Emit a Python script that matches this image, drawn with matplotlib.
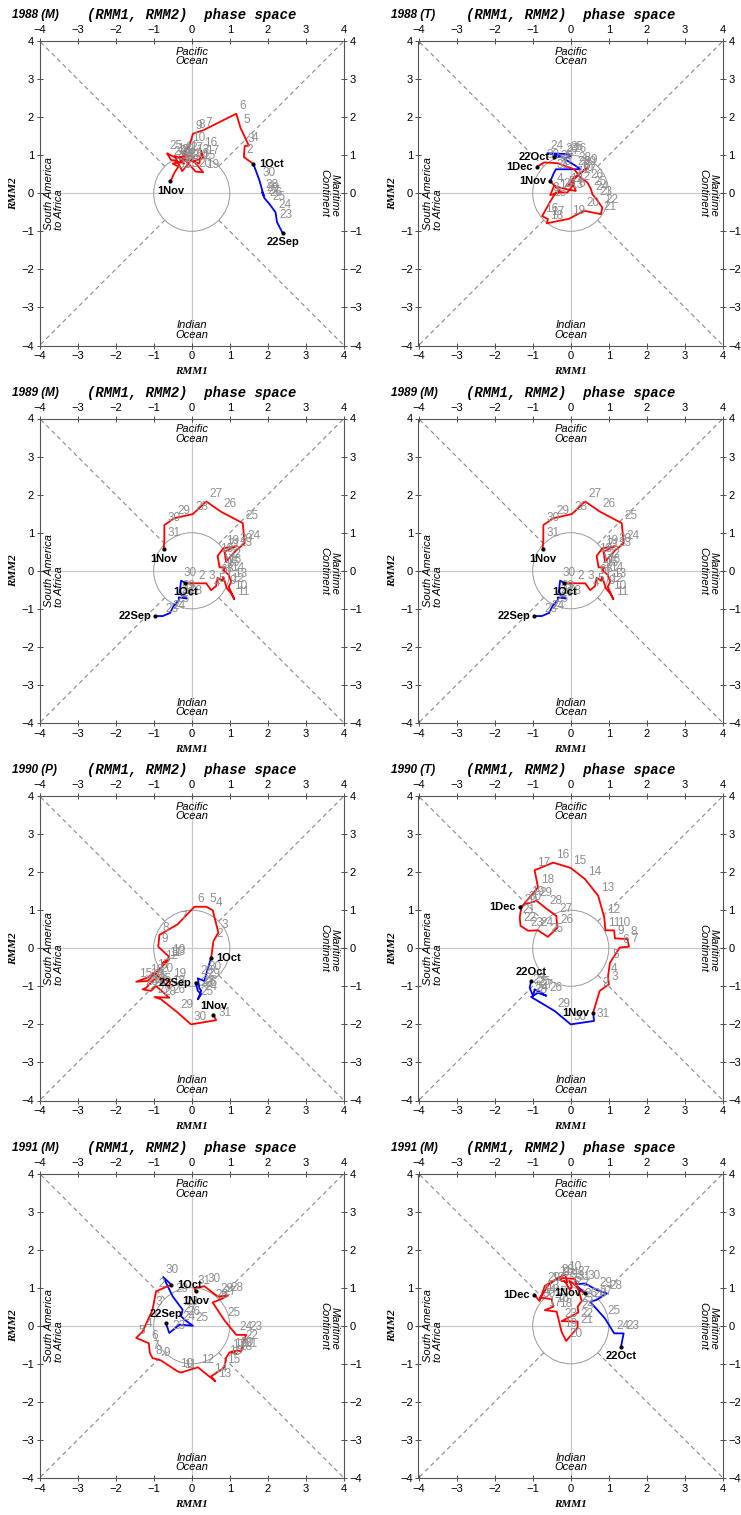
import numpy as np
import matplotlib
matplotlib.use("Agg")
import matplotlib.pyplot as plt
from matplotlib.patches import Circle

plt.rcParams['font.family'] = ['Liberation Sans', 'DejaVu Sans']

# panel titles
TITLES = ["1988 (M)", "1988 (T)", "1989 (M)", "1989 (M)",
          "1990 (P)", "1990 (T)", "1991 (M)", "1991 (M)"]

# 1988 (M): 22Sep .. 1Nov
P1_RMM1 = [2.39, 2.24, 2.20, 2.04, 1.96, 1.91, 1.85, 1.89, 1.78, 1.62,
           1.37, 1.39, 1.50, 1.28, 1.17, 0.29, 0.10, 0.03, -0.06,
           -0.24, 0.05, -0.25, -0.45, 0.20, 0.25, 0.30, 0.05, 0.30, 0.10, -0.15,
           -0.35, -0.20, -0.55, -0.65, -0.40, -0.10, -0.30, -0.50, -0.35, -0.45,
           -0.56]
P1_RMM2 = [-1.05, -0.76, -0.50, -0.28, -0.19, -0.13, 0.03, -0.06, 0.33, 0.77,
           0.95, 1.24, 1.25, 1.72, 2.09, 1.65, 1.59, 1.56, 1.25,
           1.02, 0.95, 0.58, 0.98, 0.78, 1.12, 0.92, 0.85, 0.55, 0.57, 0.85,
           0.95, 0.78, 0.88, 1.05, 0.92, 1.00, 0.82, 0.78, 0.70, 0.55,
           0.31]

# 1988 (T): 22Oct .. 1Dec
P2_RMM1 = [-0.44, -0.22, -0.60, -0.09, 0.00, -0.18, 0.13, 0.26, -0.39, -0.44, -0.54,
           -0.26, -0.54, -0.44, -0.13, 0.13, 0.04, 0.26, 0.44, 0.18, -0.09,
           0.09, -0.09, -0.39, -0.53, -0.75, -0.60, -0.63, -0.04, 0.35, 0.79,
           0.83, 0.68, 0.57, 0.53, 0.44, 0.26, 0.09, -0.35, -0.70,
           -0.88]
P2_RMM2 = [0.96, 0.96, 1.05, 1.03, 0.98, 0.91, 0.72, 0.63, 0.63, 0.54, 0.31,
           0.04, -0.05, 0.19, 0.11, 0.06, 0.37, 0.54, 0.68, 0.46, 0.19,
           0.24, 0.02, 0.02, -0.20, -0.60, -0.68, -0.79, -0.67, -0.46, -0.55,
           -0.38, -0.16, -0.03, 0.11, 0.28, 0.41, 0.63, 0.79, 0.81,
           0.70]

# 1989 (M): 22Sep .. 1Nov
P3_RMM1 = [-0.96, -0.76, -0.57, -0.48, -0.34, -0.34, -0.13, -0.32, -0.28, -0.17,
           0.11, 0.38, 0.51, 0.64, 0.68, 0.80, 0.83, 0.92, 1.04, 1.12,
           0.97, 1.04, 0.97, 0.83, 0.89, 0.73, 0.68, 0.83, 1.18, 0.86,
           0.90, 1.17, 1.39, 1.34, 0.77, 0.38, 0.03, -0.46, -0.72, -0.72,
           -0.74]
P3_RMM2 = [-1.19, -1.19, -1.11, -0.93, -0.77, -0.70, -0.73, -0.60, -0.26, -0.32,
           -0.33, -0.33, -0.51, -0.40, -0.18, -0.26, -0.16, -0.46, -0.60, -0.75,
           -0.42, -0.29, -0.11, 0.02, 0.09, 0.09, 0.39, 0.59, 0.65, 0.50,
           0.24, 0.54, 0.72, 1.25, 1.55, 1.82, 1.49, 1.38, 1.20, 0.81,
           0.56]

# 1990 (P): 22Sep .. 1Nov
P5_RMM1 = [0.10, 0.16, 0.25, 0.16, 0.25, 0.20, 0.16, 0.33, 0.38, 0.51,
           0.57, 0.70, 0.55, 0.38, 0.07, -0.37, -0.85, -0.88, -0.59,
           -0.68, -0.78, -0.59, -1.16, -1.46, -1.16, -0.98, -0.59, -0.57, -0.89,
           -1.07, -1.20, -1.29, -1.07, -0.94, -0.59, -0.98, -0.81, -0.37, -0.02, 0.64,
           0.57]
P5_RMM2 = [-0.90, -1.12, -1.21, -1.34, -1.12, -1.05, -0.79, -0.86, -0.68, -0.25,
           0.19, 0.41, 1.00, 1.09, 1.09, 0.63, 0.35, 0.04, -0.23,
           -0.33, -0.40, -0.29, -0.86, -0.88, -0.77, -0.64, -1.05, -0.88, -0.75,
           -0.90, -1.04, -1.08, -1.12, -0.99, -1.30, -1.28, -1.34, -1.69, -2.00, -1.89,
           -1.75]

# 1990 (T): 22Oct .. 1Dec
P6_RMM1 = [-1.04, -1.08, -0.99, -0.95, -0.64, -0.86, -1.04, -0.42, 0.00, 0.61, 0.59,
           0.76, 1.00, 0.98, 1.03, 1.29, 1.53, 1.49, 1.16, 1.14, 0.91,
           0.88, 0.72, 0.37, 0.00, -0.46, -0.95, -0.86, -1.12, -1.30, -1.34,
           -1.32, -1.12, -0.86, -0.60, -0.35, -0.38, -0.64, -0.90, -1.17,
           -1.34]
P6_RMM2 = [-0.86, -1.04, -1.25, -1.08, -1.25, -1.17, -1.28, -1.65, -2.00, -1.91, -1.69,
           -1.12, -0.95, -0.73, -0.38, 0.02, 0.04, 0.24, 0.26, 0.47, 0.47,
           0.81, 1.38, 1.82, 2.11, 2.25, 2.05, 1.60, 1.29, 1.07, 0.81,
           0.59, 0.46, 0.47, 0.30, 0.54, 0.85, 1.04, 1.25, 1.16,
           1.09]

# 1991 (M): 22Sep .. 1Nov
P7_RMM1 = [-0.68, -0.59, -0.32, 0.03, -0.19, -0.28, -0.24, -0.50, -0.75, -0.54,
           -0.94, -1.03, -1.29, -1.46, -1.13, -1.10, -1.03, -0.81, -0.37,
           -0.28, 0.16, 0.62, 0.51, 0.86, 0.90, 0.99, 1.17, 1.04, 1.21,
           1.30, 1.34, 1.43, 1.17, 0.86, 0.55, 0.77, 0.95, 0.68, 0.33, 0.07,
           0.10]
P7_RMM2 = [0.07, -0.19, 0.03, 0.00, 0.16, 0.25, 0.42, 0.77, 1.28, 1.08,
           0.90, 0.42, -0.15, -0.32, -0.46, -0.72, -0.85, -0.91, -1.20,
           -1.23, -1.09, -1.46, -1.33, -1.09, -0.85, -0.70, -0.74, -0.68, -0.65,
           -0.68, -0.46, -0.24, -0.24, 0.14, 0.61, 0.70, 0.79, 0.77, 1.04, 0.99,
           0.90]

# 1991 (M): 22Oct .. 1Dec
P8_RMM1 = [1.32, 1.39, 1.14, 0.90, 0.51, 0.68, 0.95, 0.68, 0.38, 0.11, 0.38,
           0.23, 0.07, -0.04, 0.03, -0.02, -0.15, -0.28, -0.09, -0.15,
           -0.37, -0.59, -0.72, -0.81, -0.50, -0.46, -0.68, -0.37, -0.24, -0.12,
           0.18, 0.18, -0.24, 0.20, 0.18, 0.29, 0.11, -0.32, -0.68, -0.82,
           -0.96]
P8_RMM2 = [-0.55, -0.20, -0.20, 0.19, 0.63, 0.68, 0.85, 0.94, 1.11, 1.09, 0.85,
           0.94, 1.11, 1.18, 1.03, 0.94, 1.16, 1.20, 1.14, 1.35,
           1.23, 1.07, 0.85, 0.74, 0.70, 0.50, 0.41, 0.37, -0.16, -0.40,
           -0.05, 0.11, 0.12, 0.35, 0.50, 0.65, 1.23, 1.26, 1.05, 0.65,
           0.82]


def day_labels(first, m1, len1, m2, len2, m3):
    labs = [f"{first}{m1}"] + [str(d) for d in range(first + 1, len1 + 1)]
    labs += [f"1{m2}"] + [str(d) for d in range(2, len2 + 1)]
    labs += [f"1{m3}"]
    return labs


SEP_NOV = day_labels(22, "Sep", 30, "Oct", 31, "Nov")
OCT_DEC = day_labels(22, "Oct", 31, "Nov", 30, "Dec")

# black label placement (start, month change, end)
OFFS = {"r": ((4, 0), "left", "center"), "l": ((-3, 0), "right", "center"),
        "b": ((0, -3), "center", "top"), "a": ((0, 3), "center", "bottom")}

panels = [
    (P1_RMM1, P1_RMM2, SEP_NOV, 10, "brb"),
    (P2_RMM1, P2_RMM2, OCT_DEC, 11, "lll"),
    (P3_RMM1, P3_RMM2, SEP_NOV, 10, "lbb"),
    (P3_RMM1, P3_RMM2, SEP_NOV, 10, "lbb"),
    (P5_RMM1, P5_RMM2, SEP_NOV, 10, "lra"),
    (P6_RMM1, P6_RMM2, OCT_DEC, 11, "all"),
    (P7_RMM1, P7_RMM2, SEP_NOV, 10, "arb"),
    (P8_RMM1, P8_RMM2, OCT_DEC, 11, "bll"),
]

fig = plt.figure(figsize=(7.41, 15.15), dpi=100)
W, H = 741.0, 1515.0
lefts = [39.5, 418.5]
tops = [41, 418.5, 796, 1173.5]
size = 304.5

for i, (x, y, days, nb, pos) in enumerate(panels):
    col, row = i % 2, i // 2
    ax = fig.add_axes([lefts[col] / W, 1 - (tops[row] + size) / H, size / W, size / H])
    ax.set_xlim(-4, 4)
    ax.set_ylim(-4, 4)

    # background frame
    ax.plot([-4, 4], [0, 0], color="#c8c8c8", lw=0.9, zorder=1)
    ax.plot([0, 0], [-4, 4], color="#c8c8c8", lw=0.9, zorder=1)
    r0 = 1 / np.sqrt(2)
    for sx, sy in [(1, 1), (1, -1), (-1, 1), (-1, -1)]:
        ax.plot([sx * r0, sx * 4], [sy * r0, sy * 4], color="#8a8a8a", lw=0.8,
                ls=(0, (4, 3)), zorder=1)
    ax.add_patch(Circle((0, 0), 1, fill=False, ec="#9a9a9a", lw=0.7, zorder=1))

    ax.text(0, 3.85, "Pacific\nOcean", ha="center", va="top", fontsize=8,
            style="italic", linespacing=0.95)
    ax.text(0, -3.85, "Indian\nOcean", ha="center", va="bottom", fontsize=8,
            style="italic", linespacing=0.95)
    ax.text(-3.88, 0, "South America\nto Africa", ha="left", va="center", fontsize=8,
            style="italic", rotation=90, linespacing=0.95)
    ax.text(3.88, 0, "Maritime\nContinent", ha="right", va="center", fontsize=8,
            style="italic", rotation=270, linespacing=0.95)

    # trajectory
    ax.plot(x[:nb], y[:nb], color="blue", lw=1.3, zorder=3)
    ax.plot(x[nb - 1:], y[nb - 1:], color="red", lw=1.3, zorder=3)

    k = 0
    for j, lab in enumerate(days):
        if lab.isdigit():
            ax.annotate(lab, (x[j], y[j]), xytext=(2, 1), textcoords="offset points",
                        ha="left", va="bottom", fontsize=8.5, color="#8f8f8f", zorder=4)
        else:
            off, ha, va = OFFS[pos[k]]
            k += 1
            ax.plot(x[j], y[j], "o", color="black", ms=2, zorder=5)
            ax.annotate(lab, (x[j], y[j]), xytext=off, textcoords="offset points",
                        ha=ha, va=va, fontsize=8, fontweight="bold", color="black",
                        zorder=5)

    ax.set_xticks(range(-4, 5))
    ax.set_yticks(range(-4, 5))
    ax.set_xticklabels([str(t).replace("-", "\u2212") for t in range(-4, 5)])
    ax.set_yticklabels([str(t).replace("-", "\u2212") for t in range(-4, 5)])
    ax.tick_params(direction="inout", length=4, width=0.6, labelsize=8,
                   top=True, right=True, labeltop=True, labelright=True, pad=2,
                   colors="#333333", labelcolor="black")
    for s in ax.spines.values():
        s.set_color("#555555")
        s.set_linewidth(0.8)

    ax.set_xlabel("RMM1", fontsize=8, fontweight="bold", style="italic",
                  family="Liberation Serif")
    ax.set_ylabel("RMM2", fontsize=8, fontweight="bold", style="italic",
                  family="Liberation Serif")
    ax.xaxis.set_label_coords(0.5, -0.072)
    ax.yaxis.set_label_coords(-0.072, 0.5)

    ax.text(-0.09, 1.085, TITLES[i], transform=ax.transAxes, ha="left", va="center",
            fontsize=8.5, fontweight="bold", style="italic")
    ax.text(0.5, 1.085, "(RMM1, RMM2)  phase space", transform=ax.transAxes,
            ha="center", va="center", fontsize=10, fontweight="bold", style="italic",
            family="Liberation Mono")

fig.savefig("out.png", dpi=100)
